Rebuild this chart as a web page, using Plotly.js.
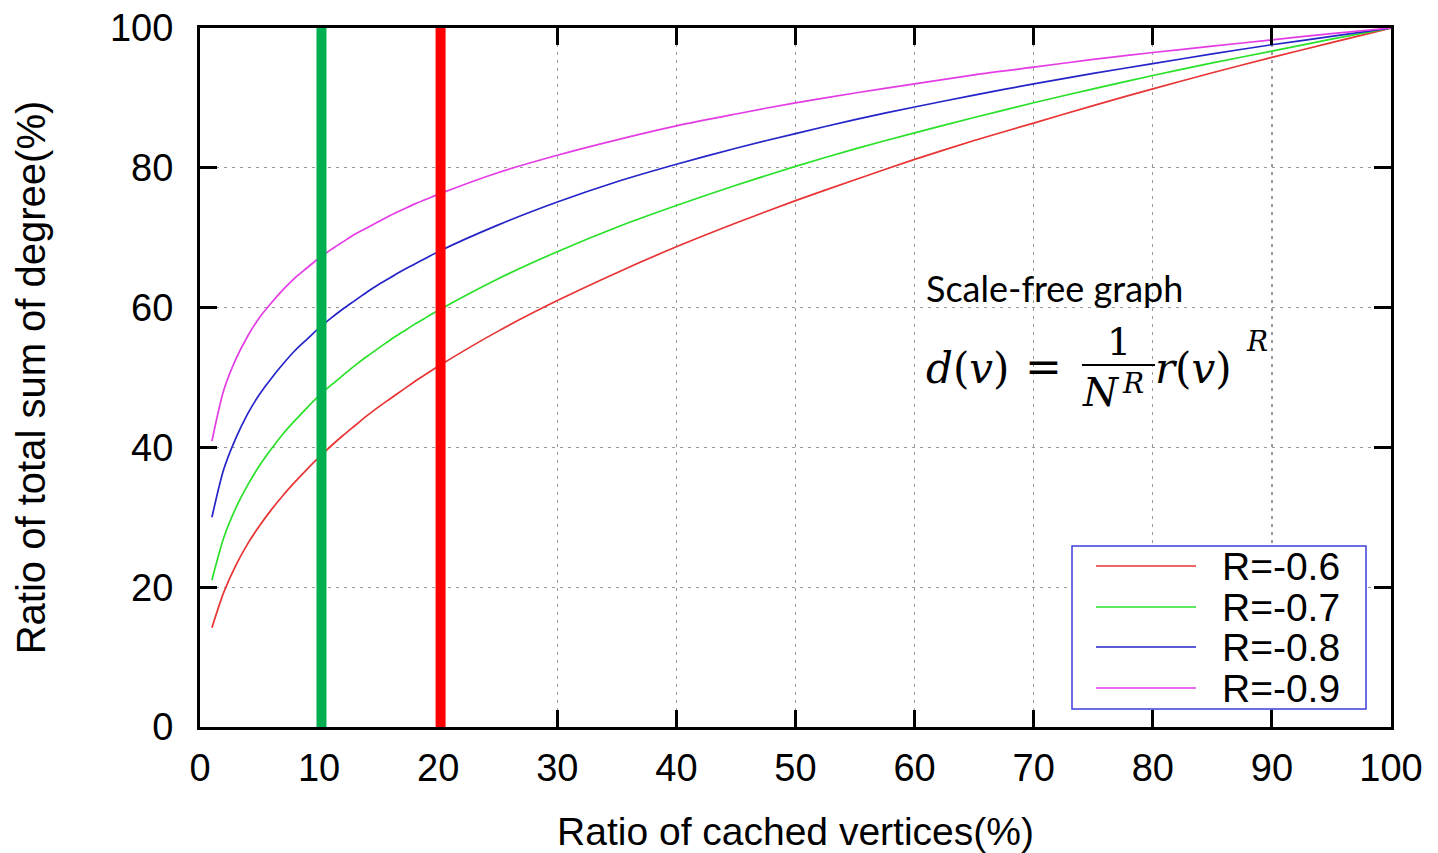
<!DOCTYPE html>
<html>
<head>
<meta charset="utf-8">
<script src="https://cdn.plot.ly/plotly-3.0.1.min.js"></script>
<style>
html,body{margin:0;padding:0;background:#fff;}
#chart{width:1438px;height:853px;}
</style>
</head>
<body>
<div id="chart"></div>
<script>
// ---- data ----
const cachedRatio = [1,2,3,4,5,6,7,8,9,10,11,12,13,14,15,16,17,18,19,20,25,30,35,40,45,50,55,60,65,70,75,80,85,90,95,100];
const seriesNames = ["R=-0.6","R=-0.7","R=-0.8","R=-0.9"];
const r06 = [14.2,19.3,23.1,26.2,28.8,31.1,33.2,35.1,36.9,38.6,40.2,41.7,43.1,44.5,45.8,47.0,48.2,49.4,50.5,51.6,56.6,61.0,65.0,68.7,72.1,75.3,78.3,81.2,83.9,86.4,88.9,91.3,93.6,95.8,97.9,100];
const r07 = [21.0,27.1,31.3,34.6,37.4,39.8,42.0,43.9,45.7,47.4,48.9,50.3,51.7,53.0,54.2,55.4,56.5,57.6,58.6,59.6,64.1,68.0,71.5,74.6,77.5,80.2,82.7,85.0,87.2,89.3,91.3,93.2,95.0,96.7,98.4,100];
const r08 = [30.0,36.9,41.3,44.8,47.6,49.9,52.0,53.9,55.5,57.1,58.5,59.8,61.0,62.2,63.3,64.3,65.3,66.2,67.1,68.0,71.8,75.1,78.0,80.5,82.8,84.9,86.9,88.7,90.4,92.0,93.5,94.9,96.3,97.6,98.8,100];
const r09 = [40.9,48.2,52.6,55.9,58.6,60.7,62.6,64.3,65.7,67.1,68.3,69.4,70.5,71.4,72.3,73.2,74.0,74.8,75.5,76.2,79.3,81.8,84.0,86.0,87.7,89.3,90.7,92.0,93.3,94.4,95.5,96.5,97.4,98.3,99.2,100];
const highlightX = [10.2, 20.2];
const xTicks = [0,10,20,30,40,50,60,70,80,90,100];
const yTicks = [0,20,40,60,80,100];

// ---- styling ----
const seriesValues = [r06, r07, r08, r09];
const colors = ["rgb(232,52,52)","rgb(40,225,40)","rgb(36,36,200)","rgb(228,60,228)"];
const highlightColors = ["#00b050", "#ff0000"];

// plot area geometry (pixels)
const L = 200, R = 1391, T = 28, B = 727;
const W = 1438, H = 853;
const px = v => (v - L) / (R - L);
const py = v => (B - v) / (B - T);

const traces = seriesValues.map((vals, i) => ({
  type: "scatter",
  mode: "lines",
  x: cachedRatio,
  y: vals,
  name: seriesNames[i],
  line: {color: colors[i], width: 1.7, shape: "spline", smoothing: 0.8},
  showlegend: false,
  hoverinfo: "x+y+name"
}));

const shapes = [];
// white box behind formula
shapes.push({type:"rect", xref:"paper", yref:"paper",
  x0: px(876), x1: px(1322), y0: py(420), y1: py(306),
  fillcolor:"#ffffff", line:{width:0}, layer:"below"});
// highlight bars
highlightX.forEach((xv, i) => {
  shapes.push({type:"line", xref:"x", yref:"y", x0:xv, x1:xv, y0:0, y1:100,
    line:{color: highlightColors[i], width: 10}, layer:"above"});
});
// custom legend box
shapes.push({type:"rect", xref:"paper", yref:"paper",
  x0: px(1072), x1: px(1366), y0: py(709), y1: py(546),
  fillcolor:"#ffffff", line:{color:"rgb(60,60,220)", width:1.5}, layer:"above"});
const legendRows = [566, 607, 647, 688];
const annotations = [];
seriesNames.forEach((nm, i) => {
  shapes.push({type:"line", xref:"paper", yref:"paper",
    x0: px(1096), x1: px(1196), y0: py(legendRows[i]), y1: py(legendRows[i]),
    line:{color: colors[i], width: 1.7}, layer:"above"});
  annotations.push({xref:"paper", yref:"paper", x: px(1220), y: py(legendRows[i]),
    xanchor:"left", yanchor:"middle", text: nm, showarrow:false,
    font:{family:"Liberation Sans, Arial, sans-serif", size:39, color:"#000"}});
});
// fraction bar of formula
shapes.push({type:"line", xref:"paper", yref:"paper",
  x0: px(1082), x1: px(1155), y0: py(365), y1: py(365),
  line:{color:"#000", width:1.8}, layer:"above"});

const serif = "DejaVu Serif, Liberation Serif, serif";
annotations.push(
  {xref:"paper", yref:"paper", x: px(924), y: py(288), xanchor:"left", yanchor:"middle",
   text:"Scale-free graph", showarrow:false, font:{family:"Lato, Open Sans, sans-serif", size:36, color:"#000"}},
  {xref:"paper", yref:"paper", x: px(924), y: py(368), xanchor:"left", yanchor:"middle",
   text:"<i>d</i>(<i>v</i>)", showarrow:false, font:{family:serif, size:42, color:"#000"}},
  {xref:"paper", yref:"paper", x: px(1043), y: py(366), xanchor:"center", yanchor:"middle",
   text:"=", showarrow:false, font:{family:serif, size:44, color:"#000"}},
  {xref:"paper", yref:"paper", x: px(1119), y: py(342), xanchor:"center", yanchor:"middle",
   text:"1", showarrow:false, font:{family:serif, size:38, color:"#000"}},
  {xref:"paper", yref:"paper", x: px(1080), y: py(392), xanchor:"left", yanchor:"middle",
   text:"<i>N</i>", showarrow:false, font:{family:serif, size:40, color:"#000"}},
  {xref:"paper", yref:"paper", x: px(1120), y: py(383), xanchor:"left", yanchor:"middle",
   text:"<i>R</i>", showarrow:false, font:{family:serif, size:28, color:"#000"}},
  {xref:"paper", yref:"paper", x: px(1153), y: py(368), xanchor:"left", yanchor:"middle",
   text:"<i>r</i>(<i>v</i>)", showarrow:false, font:{family:serif, size:42, color:"#000"}},
  {xref:"paper", yref:"paper", x: px(1244), y: py(341), xanchor:"left", yanchor:"middle",
   text:"<i>R</i>", showarrow:false, font:{family:serif, size:28, color:"#000"}}
);

const axisCommon = {
  showline: true, linecolor: "#000", linewidth: 3, mirror: "ticks",
  ticks: "inside", ticklen: 17, tickwidth: 3, tickcolor: "#000",
  showgrid: true, gridcolor: "#9a9a9a", gridwidth: 1.2, griddash: "3px,5px",
  zeroline: false,
  tickfont: {family: "Liberation Sans, Arial, sans-serif", size: 38, color: "#000"}
};

const layout = {
  width: W, height: H,
  margin: {l: L, r: W - R, t: T, b: H - B, pad: 0},
  paper_bgcolor: "#fff", plot_bgcolor: "#fff",
  showlegend: false,
  xaxis: Object.assign({}, axisCommon, {
    range: [0, 100], tickvals: xTicks, ticktext: xTicks.map(String),
    ticklabelstandoff: 5,
    title: {text: "Ratio of cached vertices(%)", standoff: 34,
      font: {family: "Liberation Sans, Arial, sans-serif", size: 39, color: "#000"}}
  }),
  yaxis: Object.assign({}, axisCommon, {
    range: [0, 100], tickvals: yTicks, ticktext: yTicks.map(String),
    ticklabelstandoff: 16,
    title: {text: "Ratio of total sum of degree(%)", standoff: 52,
      font: {family: "Liberation Sans, Arial, sans-serif", size: 40, color: "#000"}}
  }),
  shapes: shapes,
  annotations: annotations
};

Plotly.newPlot("chart", traces, layout, {displayModeBar: false, staticPlot: true});
</script>
</body>
</html>
